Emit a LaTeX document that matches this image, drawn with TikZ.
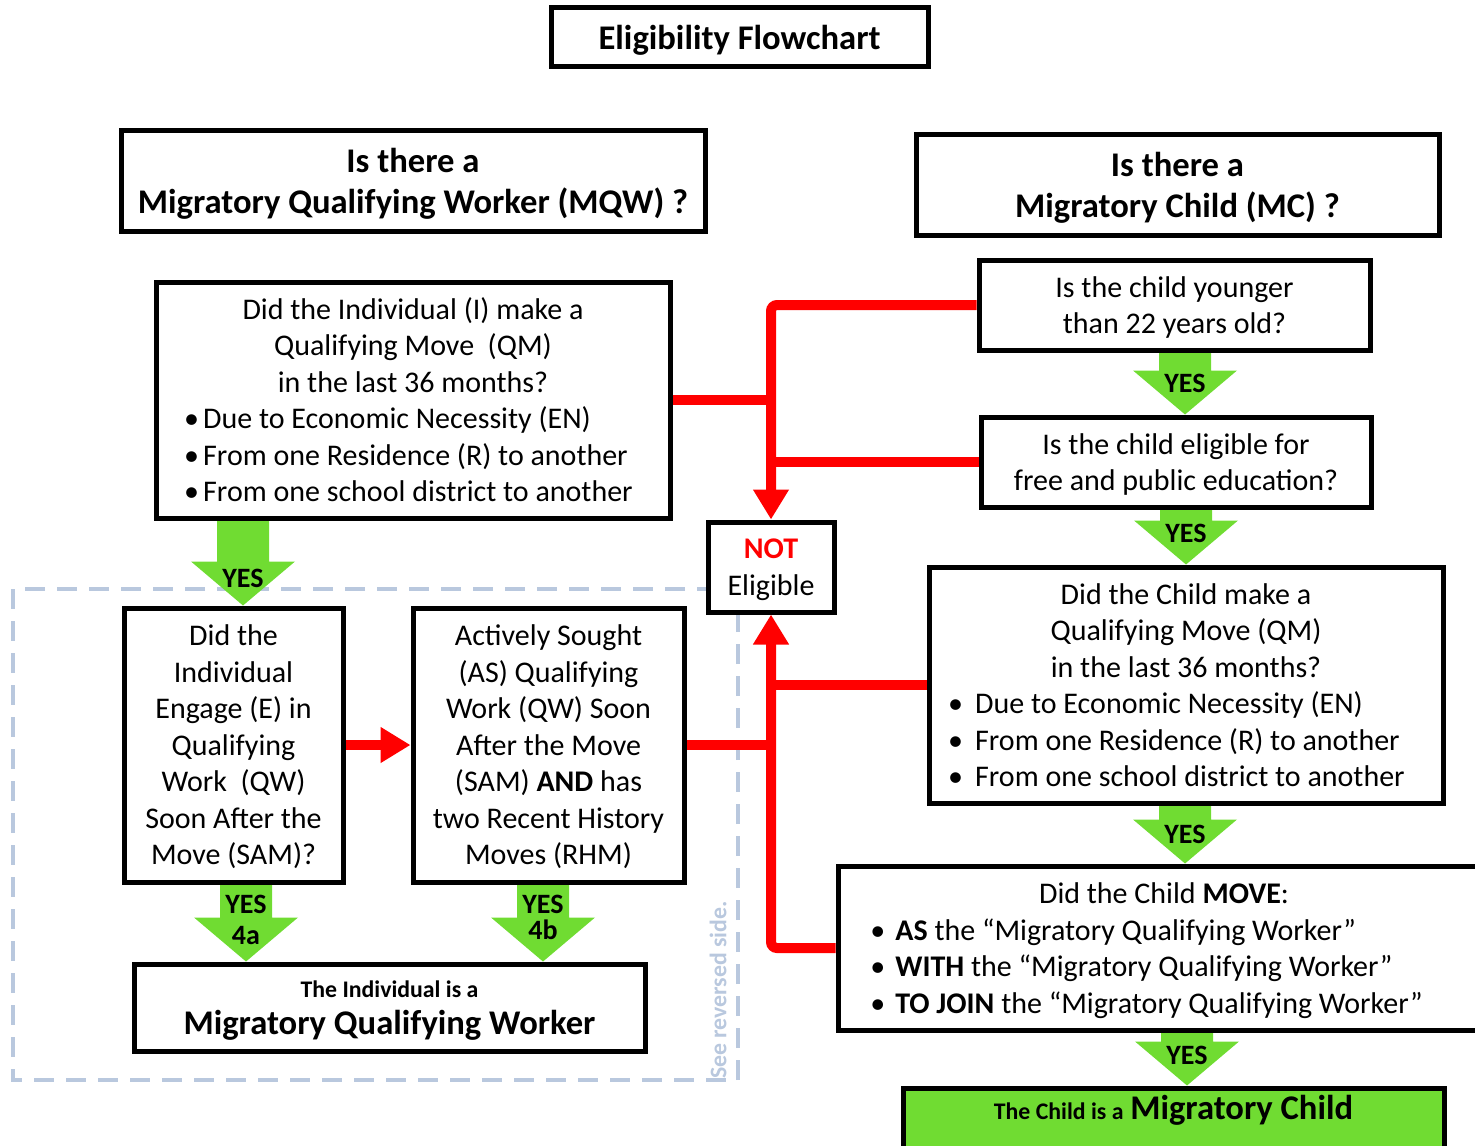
\documentclass[tikz,border=0pt]{standalone}
\usepackage{fontspec}
\setmainfont{Carlito}
\usetikzlibrary{arrows.meta,calc,backgrounds}

\definecolor{yesgreen}{RGB}{112,220,50}
\definecolor{zonegrey}{RGB}{185,200,222}

\newcommand{\fcbody}{\fontsize{15}{18.25}\selectfont}
\newcommand{\fchead}{\fontsize{17.3}{20.5}\selectfont\bfseries}
\newcommand{\fcsmall}{\fontsize{11.9}{14}\selectfont\bfseries}
\newcommand{\fcyes}{\fontsize{14}{15.5}\selectfont\bfseries}
\newcommand{\bul}[1]{\makebox[#1][l]{\textbullet}}
\newcommand{\midline}[1]{\multicolumn{1}{@{}c@{}}{#1}}
\newcommand{\lowbox}[1]{\raisebox{0pt}[\dimexpr\height+3pt][\depth]{#1}}

% green block arrow: x, from node, to node, name, label shift, label
\newcommand{\yesarrow}[6]{%
  \coordinate (#4top) at (#2.south -| #1,0);
  \coordinate (#4tip) at (#3.north -| #1,0);
  \fill[yesgreen] ($(#4top)+(-26,0)$) -- ($(#4top)+(26,0)$)
    -- ($(#4tip)+(26,-44)$) -- ($(#4tip)+(52,-44)$) -- (#4tip)
    -- ($(#4tip)+(-52,-44)$) -- ($(#4tip)+(-26,-44)$) -- cycle;
  \node[yeslabel, anchor=south] (#4) at ($(#4tip)+(0,#5)$) {#6};
}

\tikzset{
  frame/.style={draw=black, line width=2.5pt, fill=white, inner sep=0pt, font=\fcbody},
  box/.style={frame, align=center, text depth=0pt},
  headbox/.style={box, font=\fchead},
  noline/.style={draw=red, line width=5pt, rounded corners=3pt},
  notip/.style={-{Triangle[width=17pt,length=15pt]}},
  yeslabel/.style={font=\fcyes, align=center, inner sep=0pt},
  zone/.style={draw=zonegrey, line width=2pt, dash pattern=on 10pt off 6pt},
}

\begin{document}
\begin{tikzpicture}[x=0.5pt,y=-0.5pt]
\useasboundingbox (0,0) rectangle (1475,1145);

% headers
\node[headbox, minimum width=188.5pt, minimum height=29.5pt] (title) at (739.5,37.5) {Eligibility Flowchart};
\node[headbox, minimum width=292pt, minimum height=50.5pt] (mqwq) at (413,180.5) {Is there a\\ Migratory Qualifying Worker (MQW) ?};
\node[headbox, minimum width=261.5pt, minimum height=50.5pt] (mcq) at (1177.5,184.5) {Is there a\\ Migratory Child (MC) ?};

% worker side
\node[frame, minimum width=257pt, minimum height=118pt] (qmI) at (413,400)
  {\lowbox{\begin{tabular}{@{}l@{\hspace{4.5pt}}}
   \midline{Did the Individual (I) make a}\\
   \midline{Qualifying Move\ \ (QM)}\\
   \midline{in the last 36 months?}\\
   \bul{9.5pt}Due to Economic Necessity (EN)\\
   \bul{9.5pt}From one Residence (R) to another\\
   \bul{9.5pt}From one school district to another
   \end{tabular}}};
\node[box, minimum width=109.5pt, minimum height=137pt] (engage) at (233.5,745)
  {Did the\\ Individual\\ Engage (E) in\\ Qualifying\\ Work\ \ (QW)\\ Soon After the\\ Move (SAM)?};
\node[box, minimum width=135.5pt, minimum height=137pt] (active) at (548.5,745)
  {Actively Sought\\ (AS) Qualifying\\ Work (QW) Soon\\ After the Move\\ (SAM) \textbf{AND} has\\ two Recent History\\ Moves (RHM)};
\node[box, font=\fchead, minimum width=255.5pt, minimum height=43.5pt] (mqwres) at (389.5,1007.5)
  {{\fcsmall The Individual is a}\\[-2pt] Migratory Qualifying Worker};
\node[box, minimum width=63pt, minimum height=45pt] (noteli) at (771,567)
  {\textcolor{red}{\textbf{NOT}}\\ Eligible};

% child side
\node[box, minimum width=195.5pt, minimum height=45pt] (young) at (1174.5,305)
  {Is the child younger\\ than 22 years old?};
\node[box, minimum width=195pt, minimum height=45pt] (elig) at (1176,462)
  {Is the child eligible for\\ free and public education?};
\node[frame, minimum width=257pt, minimum height=118pt] (cqm) at (1186,685)
  {\lowbox{\begin{tabular}{@{}l@{\hspace{9.5pt}}}
   \midline{Did the Child make a}\\
   \midline{Qualifying Move (QM)}\\
   \midline{in the last 36 months?}\\
   \bul{13.5pt}Due to Economic Necessity (EN)\\
   \bul{13.5pt}From one Residence (R) to another\\
   \bul{13.5pt}From one school district to another
   \end{tabular}}};
\node[frame, minimum width=326pt, minimum height=82pt] (moveq) at (1164,948)
  {\lowbox{\begin{tabular}{@{}l@{\hspace{17.5pt}}}
   \midline{Did the Child \textbf{MOVE}:}\\
   \bul{12.5pt}\textbf{AS} the “Migratory Qualifying Worker”\\
   \bul{12.5pt}\textbf{WITH} the “Migratory Qualifying Worker”\\
   \bul{12.5pt}\textbf{TO JOIN} the “Migratory Qualifying Worker”
   \end{tabular}}};
\node[box, fill=yesgreen, minimum width=270.5pt, minimum height=31pt] (mchild) at (1173.5,1119)
  {\raisebox{0pt}[0pt][0pt]{{\fcsmall The Child is a}\ {\fchead Migratory Child}}};

\node[rotate=90, text=zonegrey, font=\fcsmall, inner sep=0pt] (seeback) at (718,990) {See reversed side.};

\begin{scope}[on background layer]
\draw[zone] (13,589) rectangle (738,1080);
\yesarrow{243}{qmI}{engage}{yesa}{-17}{YES}
\yesarrow{1185}{young}{elig}{yesb}{-21}{YES}
\yesarrow{1186}{elig}{cqm}{yesc}{-21}{YES}
\yesarrow{1185}{cqm}{moveq}{yesd}{-19}{YES}
\yesarrow{1187}{moveq}{mchild}{yese}{-20}{YES}
\yesarrow{246}{engage}{mqwres}{yesf}{-16}{YES\\4a}
\yesarrow{543}{active}{mqwres}{yesg}{-21}{YES\\[-2.5pt]4b}
\end{scope}

% not eligible connectors
\draw[noline, notip] (young.west) -| (noteli.north);
\draw[noline] (qmI.east) -- (qmI.east -| noteli.north);
\draw[noline] (elig.west) -- (elig.west -| noteli.north);
\draw[noline, notip] (moveq.west) -| (noteli.south);
\draw[noline] (cqm.west) -- (cqm.west -| noteli.south);
\draw[noline] (active.east) -- (active.east -| noteli.south);
\draw[noline, notip] (engage.east) -- (active.west);

\end{tikzpicture}
\end{document}
